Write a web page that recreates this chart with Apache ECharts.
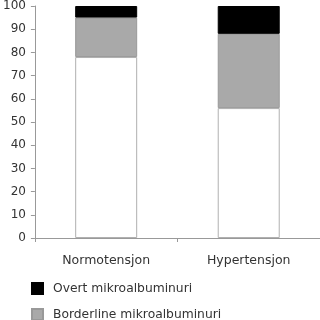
<!DOCTYPE html>
<html><head><meta charset="utf-8">
<script src="https://cdn.jsdelivr.net/npm/echarts@6/dist/echarts.min.js"></script>
<style>html,body{margin:0;padding:0;background:#fff}#c{width:320px;height:320px}</style>
</head><body><div id="c"></div>
<script>
const categories = ['Normotensjon', 'Hypertensjon'];
const normalValues = [78, 56];
const borderlineValues = [17, 32];
const overtValues = [5, 12];
const yTicks = [0, 10, 20, 30, 40, 50, 60, 70, 80, 90, 100];
const legendNames = ['Overt mikroalbuminuri', 'Borderline mikroalbuminuri'];

const font = 'DejaVu Sans, sans-serif';
const legendBase = {
  orient: 'vertical', left: 31, padding: 0,
  itemWidth: 11, itemHeight: 11, icon: 'rect',
  textStyle: {fontFamily: font, fontSize: 12.3, color: '#333', padding: [0, 0, 0, 5]}
};
const chart = echarts.init(document.getElementById('c'), null, {renderer: 'canvas'});
chart.setOption({
  animation: false,
  backgroundColor: '#fff',
  grid: {left: 33, right: 0, top: 6, bottom: 82},
  legend: [
    Object.assign({}, legendBase, {data: [legendNames[0]], top: 282}),
    Object.assign({}, legendBase, {data: [legendNames[1]], top: 308})
  ],
  xAxis: {
    type: 'category', data: categories,
    axisLine: {lineStyle: {color: '#999'}},
    axisTick: {show: true, alignWithLabel: false, length: 4, lineStyle: {color: '#999'}},
    axisLabel: {fontFamily: font, fontSize: 12.5, color: '#333', margin: 16}
  },
  yAxis: {
    type: 'value', min: yTicks[0], max: yTicks[yTicks.length - 1], interval: 10,
    axisLine: {show: true, lineStyle: {color: '#999'}},
    axisTick: {show: true, length: 4, lineStyle: {color: '#999'}},
    splitLine: {show: false},
    axisLabel: {fontFamily: font, fontSize: 12, color: '#333', margin: 9}
  },
  series: [
    {name: 'Normal', type: 'bar', stack: 's', data: normalValues, barWidth: 62,
     itemStyle: {color: '#fff', borderColor: '#b0b0b0', borderWidth: 1}},
    {name: legendNames[1], type: 'bar', stack: 's', data: borderlineValues,
     itemStyle: {color: '#a9a9a9', borderColor: '#999', borderWidth: 1}},
    {name: legendNames[0], type: 'bar', stack: 's', data: overtValues,
     itemStyle: {color: '#000', borderColor: '#000', borderWidth: 1}}
  ]
});
</script></body></html>
